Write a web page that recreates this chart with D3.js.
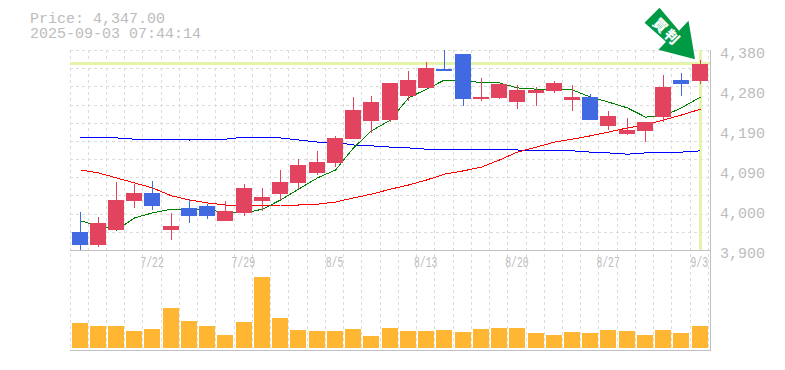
<!DOCTYPE html>
<html>
<head>
<meta charset="utf-8">
<script src="https://cdn.jsdelivr.net/npm/d3@7"></script>
<style>
    html, body { margin: 0; padding: 0; background: #fff; overflow: hidden; }
    text { font-family: "Liberation Mono", monospace; fill: #bcbcbc; }
</style>
</head>
<body>
<div id="chart"></div>
<script>
const dates = ["7/15", "7/16", "7/17", "7/18", "7/22", "7/23", "7/24", "7/25", "7/28", "7/29",
    "7/30", "7/31", "8/1", "8/4", "8/5", "8/6", "8/7", "8/8", "8/12", "8/13",
    "8/14", "8/15", "8/18", "8/19", "8/20", "8/21", "8/22", "8/25", "8/26", "8/27",
    "8/28", "8/29", "9/1", "9/2", "9/3"];
const dateLabels = ["7/22", "7/29", "8/5", "8/13", "8/20", "8/27", "9/3"];

const opens = [3943, 3912, 3948, 4018, 4037, 3948, 4001, 4006, 3970, 3989,
    4018, 4034, 4061, 4085, 4109, 4166, 4210, 4212, 4270, 4289,
    4334, 4370, 4262, 4265, 4255, 4277, 4282, 4260, 4267, 4198,
    4178, 4186, 4219, 4308, 4306];
const closes = [3912, 3965, 4020, 4037, 4006, 3958, 3982, 3982, 3994, 4049,
    4027, 4063, 4104, 4111, 4169, 4236, 4255, 4301, 4308, 4337,
    4330, 4262, 4267, 4298, 4284, 4284, 4301, 4267, 4212, 4222,
    4188, 4207, 4291, 4298, 4347];
const highs = [3991, 3979, 4064, 4058, 4066, 3989, 4022, 4010, 4018, 4058,
    4049, 4092, 4118, 4138, 4174, 4267, 4270, 4301, 4330, 4351,
    4380, 4370, 4313, 4298, 4296, 4291, 4306, 4296, 4274, 4234,
    4217, 4207, 4320, 4325, 4356];
const lows = [3900, 3908, 3948, 4001, 3996, 3924, 3965, 3974, 3970, 3982,
    3994, 4020, 4046, 4080, 4099, 4166, 4181, 4207, 4258, 4289,
    4330, 4246, 4258, 4262, 4238, 4246, 4277, 4234, 4212, 4188,
    4176, 4159, 4207, 4270, 4298];

const maShort = [3970, 3958, 3948, 3977, 3989, 3998, 3998, 3998, 3989, 3989,
    3998, 4020, 4046, 4073, 4092, 4145, 4186, 4212, 4265, 4286,
    4308, 4308, 4301, 4301, 4289, 4286, 4286, 4284, 4267, 4255,
    4241, 4219, 4222, 4241, 4267];
const maMid = [4092, 4085, 4073, 4061, 4049, 4030, 4020, 4013, 4008, 4006,
    4006, 4008, 4008, 4010, 4015, 4025, 4034, 4046, 4056, 4068,
    4082, 4090, 4099, 4116, 4135, 4147, 4159, 4166, 4174, 4183,
    4193, 4200, 4212, 4224, 4238];
const maLong = [4171, 4169, 4169, 4166, 4166, 4166, 4164, 4166, 4166, 4171,
    4171, 4169, 4164, 4159, 4159, 4152, 4150, 4147, 4145, 4142,
    4142, 4142, 4142, 4142, 4140, 4138, 4138, 4138, 4135, 4133,
    4130, 4133, 4133, 4135, 4138];

const volumes = [25, 22, 22, 17, 19, 40, 27, 22, 13, 26,
    71, 30, 18, 17, 17, 19, 12, 20, 17, 17,
    18, 16, 19, 20, 20, 15, 13, 16, 15, 18,
    17, 13, 18, 15, 22];

const priceTicks = [3900, 3996, 4092, 4188, 4284, 4380];
const priceLabels = ["3,900", "4,000", "4,090", "4,190", "4,280", "4,380"];
const currentPrice = 4347;

const plot = { left: 70, bandRight: 708.4, right: 710, top: 50, bottom: 250, volBase: 348, volBottom: 350 };
const gridColor = "#dcdcdc";
const axisColor = "#bcbcbc";
const levelColor = "#e4f5a9";

const svg = d3.select("#chart").append("svg")
    .attr("width", 785)
    .attr("height", 370);

const x = d3.scaleBand().domain(dates).range([plot.left, plot.bandRight]);
const y = d3.scaleLinear().domain([3900, 4380]).range([plot.bottom, plot.top]);
const yVol = d3.scaleLinear().domain([0, 71]).range([plot.volBase, plot.volBase - 71]);
const cx = d => Math.floor(x(d)) + 10.5;

// grid
const grid = svg.append("g").attr("shape-rendering", "crispEdges")
    .attr("stroke", gridColor).attr("stroke-dasharray", "3,3");
d3.range(12).forEach(i => {
    const gy = Math.round(plot.bottom - i * 200 / 11) + 0.5;
    if (i > 0) grid.append("line").attr("x1", plot.left).attr("x2", plot.right).attr("y1", gy).attr("y2", gy);
});
dates.concat([null]).forEach(d => {
    const gx = Math.floor(d ? x(d) : plot.bandRight) + 0.5;
    grid.append("line").attr("x1", gx).attr("x2", gx).attr("y1", plot.top).attr("y2", plot.volBottom);
});

// 現在値ライン
svg.append("rect")
    .attr("x", plot.left).attr("width", plot.right - plot.left)
    .attr("y", Math.round(y(currentPrice)) - 2).attr("height", 3)
    .attr("fill", levelColor);
svg.append("rect")
    .attr("x", cx(dates[dates.length - 1]) - 1.5).attr("width", 3)
    .attr("y", plot.top).attr("height", plot.bottom - plot.top)
    .attr("fill", levelColor);

// frame
const frame = svg.append("g").attr("stroke", "#c0c0c0").attr("shape-rendering", "crispEdges");
frame.append("line").attr("x1", plot.left).attr("x2", plot.right + 1).attr("y1", plot.bottom + 0.5).attr("y2", plot.bottom + 0.5);
frame.append("line").attr("x1", plot.left).attr("x2", plot.right + 1).attr("y1", plot.volBottom + 0.5).attr("y2", plot.volBottom + 0.5);
frame.append("line").attr("x1", plot.right + 0.5).attr("x2", plot.right + 0.5).attr("y1", plot.top).attr("y2", plot.volBottom);

// 出来高
svg.append("g").attr("shape-rendering", "crispEdges")
    .selectAll("rect")
    .data(volumes)
    .enter()
    .append("rect")
    .attr("x", (d, i) => Math.floor(x(dates[i])) + 2)
    .attr("width", 16)
    .attr("y", d => yVol(d))
    .attr("height", d => yVol(0) - yVol(d))
    .attr("fill", "#ffb733");

// moving averages
const line = d3.line().x((d, i) => cx(dates[i])).y(d => y(d));
[[maLong, "#0000ff"], [maMid, "#ff0000"], [maShort, "#008000"]].forEach(([values, color]) => {
    svg.append("path")
        .attr("d", line(values))
        .attr("fill", "none")
        .attr("stroke", color)
        .attr("stroke-width", 1)
        .attr("shape-rendering", "crispEdges");
});

// candles
const upColor = "#e2445f";
const downColor = "#4169e1";
const candles = svg.append("g").attr("shape-rendering", "crispEdges")
    .selectAll("g")
    .data(dates)
    .enter()
    .append("g");
candles.append("line")
    .attr("x1", d => cx(d)).attr("x2", d => cx(d))
    .attr("y1", (d, i) => y(highs[i]))
    .attr("y2", (d, i) => y(lows[i]))
    .attr("stroke", (d, i) => closes[i] >= opens[i] ? upColor : downColor);
candles.append("rect")
    .attr("x", d => Math.floor(x(d)) + 2)
    .attr("width", 16)
    .attr("y", (d, i) => y(Math.max(opens[i], closes[i])))
    .attr("height", (d, i) => Math.abs(y(opens[i]) - y(closes[i])))
    .attr("fill", (d, i) => closes[i] >= opens[i] ? upColor : downColor);

// axes
const yAxis = svg.append("g")
    .attr("transform", `translate(${plot.right},0)`)
    .call(d3.axisRight(y).tickValues(priceTicks).tickFormat((d, i) => priceLabels[i]).tickSize(0));
yAxis.select(".domain").remove();
yAxis.selectAll("text")
    .attr("x", 10)
    .attr("dy", 7)
    .style("font-size", "15px")
    .style("fill", axisColor);

const xAxis = svg.append("g")
    .attr("transform", `translate(0,${plot.bottom})`)
    .call(d3.axisBottom(x).tickValues(dateLabels).tickSize(0));
xAxis.select(".domain").remove();
xAxis.selectAll("text")
    .attr("y", 0)
    .attr("dy", 0)
    .attr("transform", "translate(0,17) scale(0.65,1)")
    .style("font-size", "15px")
    .style("fill", axisColor);
xAxis.selectAll(".tick").each(function (d) {
    d3.select(this).attr("transform", `translate(${x(d) + x.bandwidth() / 2},0)`);
});

// header
svg.append("text").attr("x", 30).attr("y", 23).style("font-size", "15px").text("Price: 4,347.00");
svg.append("text").attr("x", 30).attr("y", 38).style("font-size", "15px").text("2025-09-03 07:44:14");

// 矢印
const arrow = svg.append("g")
    .attr("transform", `translate(${cx(dates[dates.length - 1])},${y(currentPrice)})`);
arrow.append("path")
    .attr("d", "M-41,-56 L-56,-41 L-34.5,-22 L-42,-14 L-5.5,-4.5 L-12,-43 L-21.5,-33 Z")
    .attr("fill", "#009944");
arrow.selectAll(".mark")
    .data(["買", "判"])
    .enter()
    .append("text")
    .attr("transform", (d, i) => `translate(${-39.5 + i * 11.5},${-39 + i * 11.5}) rotate(45)`)
    .attr("text-anchor", "middle")
    .attr("dominant-baseline", "central")
    .style("font-family", '"Noto Sans CJK JP"')
    .style("font-weight", "900")
    .style("font-size", "14px")
    .style("fill", "#ffffff")
    .text(d => d);
</script>
</body>
</html>
